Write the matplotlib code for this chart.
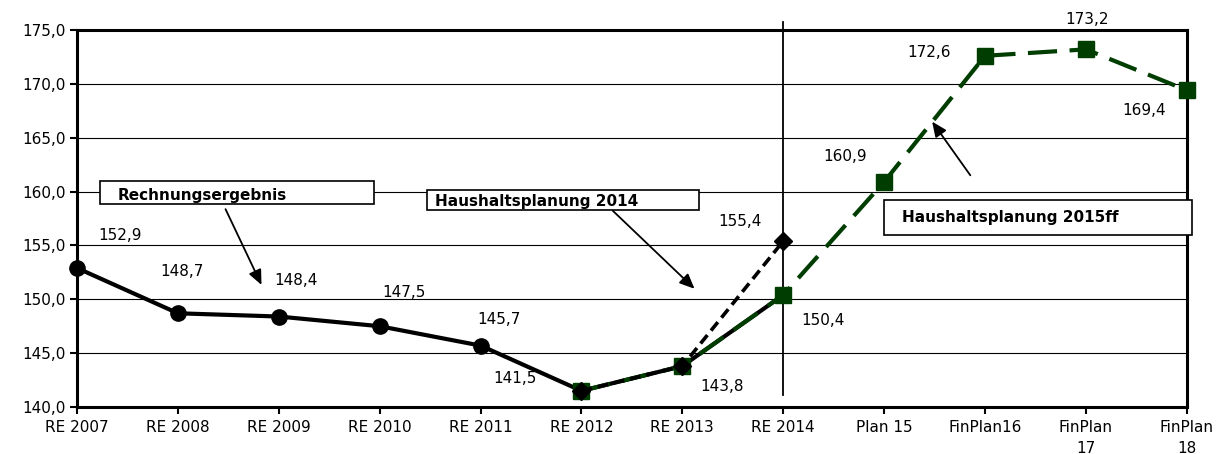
import matplotlib

matplotlib.use("Agg")

import matplotlib.pyplot as plt
from matplotlib.patches import Rectangle
from matplotlib.ticker import FuncFormatter

plt.rcParams["font.family"] = ["DejaVu Sans"]

categories = ["RE 2007", "RE 2008", "RE 2009", "RE 2010", "RE 2011", "RE 2012",
              "RE 2013", "RE 2014", "Plan 15", "FinPlan16", "FinPlan\n17", "FinPlan\n18"]
re_values = [152.9, 148.7, 148.4, 147.5, 145.7, 141.5, 143.8, 150.4]
hh2014_start = 5
hh2014_values = [141.5, 143.8, 155.4]
hh2015_start = 5
hh2015_values = [141.5, 143.8, 150.4, 160.9, 172.6, 173.2, 169.4]

GREEN = "#003d00"


def de(v):
    return f"{v:.1f}".replace(".", ",")


fig = plt.figure(figsize=(12.21, 4.54), dpi=100)
ax = fig.add_axes([0.0631, 0.1035, 0.9089, 0.8305])

x_re = list(range(len(re_values)))
x_14 = list(range(hh2014_start, hh2014_start + len(hh2014_values)))
x_15 = list(range(hh2015_start, hh2015_start + len(hh2015_values)))

ax.plot(x_re, re_values, color="black", lw=3.0, marker="o", ms=11,
        solid_joinstyle="round", zorder=3, clip_on=False)
ax.plot(x_15, hh2015_values, color=GREEN, lw=3.0, ls=(0, (7, 3)), marker="s", ms=11.5,
        zorder=4, clip_on=False)
ax.plot(x_14, hh2014_values, color="black", lw=2.6, ls=(0, (3, 1.6)), marker="D", ms=9,
        zorder=5, clip_on=False)

# data labels: (x index, value) and their offsets in pixels
labels = [(i, v) for i, v in zip(x_re, re_values)]
labels.append((x_14[-1], hh2014_values[-1]))
labels += [(i, v) for i, v in zip(x_15[3:], hh2015_values[3:])]
offsets = [(43, 33), (4, 42), (17, 36), (24, 34), (18, 26), (-66, 12), (40, -20),
           (40, -26), (-43, 20), (-39, 25), (-56, 3), (1, 30), (-43, -20)]
for (i, v), off in zip(labels, offsets):
    ax.annotate(de(v), (i, v), xytext=off, textcoords="offset pixels",
                ha="center", va="center", fontsize=11, zorder=6, annotation_clip=False)

# vertical separator at RE 2014
ax.axvline(7, ymin=0.032, ymax=1.022, color="black", lw=1.3, clip_on=False, zorder=2)

ax.set_xlim(0, len(categories) - 1)
ax.set_ylim(140, 175)
ax.set_yticks([140, 145, 150, 155, 160, 165, 170, 175])
ax.yaxis.set_major_formatter(FuncFormatter(lambda v, p: de(v)))
ax.set_xticks(range(len(categories)))
ax.set_xticklabels(categories, fontsize=11, linespacing=1.5)
ax.tick_params(axis="y", labelsize=11, length=5, width=1.5, direction="out", pad=3)
ax.tick_params(axis="x", length=5, width=1.5, direction="out", pad=4)
ax.grid(axis="y", color="black", lw=0.8)
ax.set_axisbelow(True)
for s in ax.spines.values():
    s.set_linewidth(2.2)

# callout arrows
arrow = dict(arrowstyle="-|>,head_length=0.9,head_width=0.4", color="black", lw=1.3)
ax.annotate("", xy=(1.84, 151.1), xytext=(1.46, 158.6), arrowprops=arrow, zorder=7)
ax.annotate("", xy=(6.14, 150.8), xytext=(5.29, 158.4), arrowprops=arrow, zorder=7)
ax.annotate("", xy=(8.46, 166.7), xytext=(8.87, 161.3), arrowprops=arrow, zorder=7)

# callout boxes
rects = [((0.23, 158.85), 2.71, 2.15), ((3.47, 158.3), 2.69, 1.85), ((8.0, 156.0), 3.05, 3.25)]
for (x0, y0), w, h in rects:
    ax.add_patch(Rectangle((x0, y0), w, h, fc="white", ec="black", lw=1.2, zorder=8,
                           clip_on=False))
ax.text(0.40, 158.95, "Rechnungsergebnis", fontsize=11, fontweight="bold", ha="left",
        va="bottom", zorder=9)
ax.text(3.55, 158.4, "Haushaltsplanung 2014", fontsize=11, fontweight="bold", ha="left",
        va="bottom", zorder=9)
ax.text(8.18, 157.6, "Haushaltsplanung 2015ff", fontsize=11, fontweight="bold", ha="left",
        va="center", zorder=9)

fig.savefig("out.png", dpi=100)
